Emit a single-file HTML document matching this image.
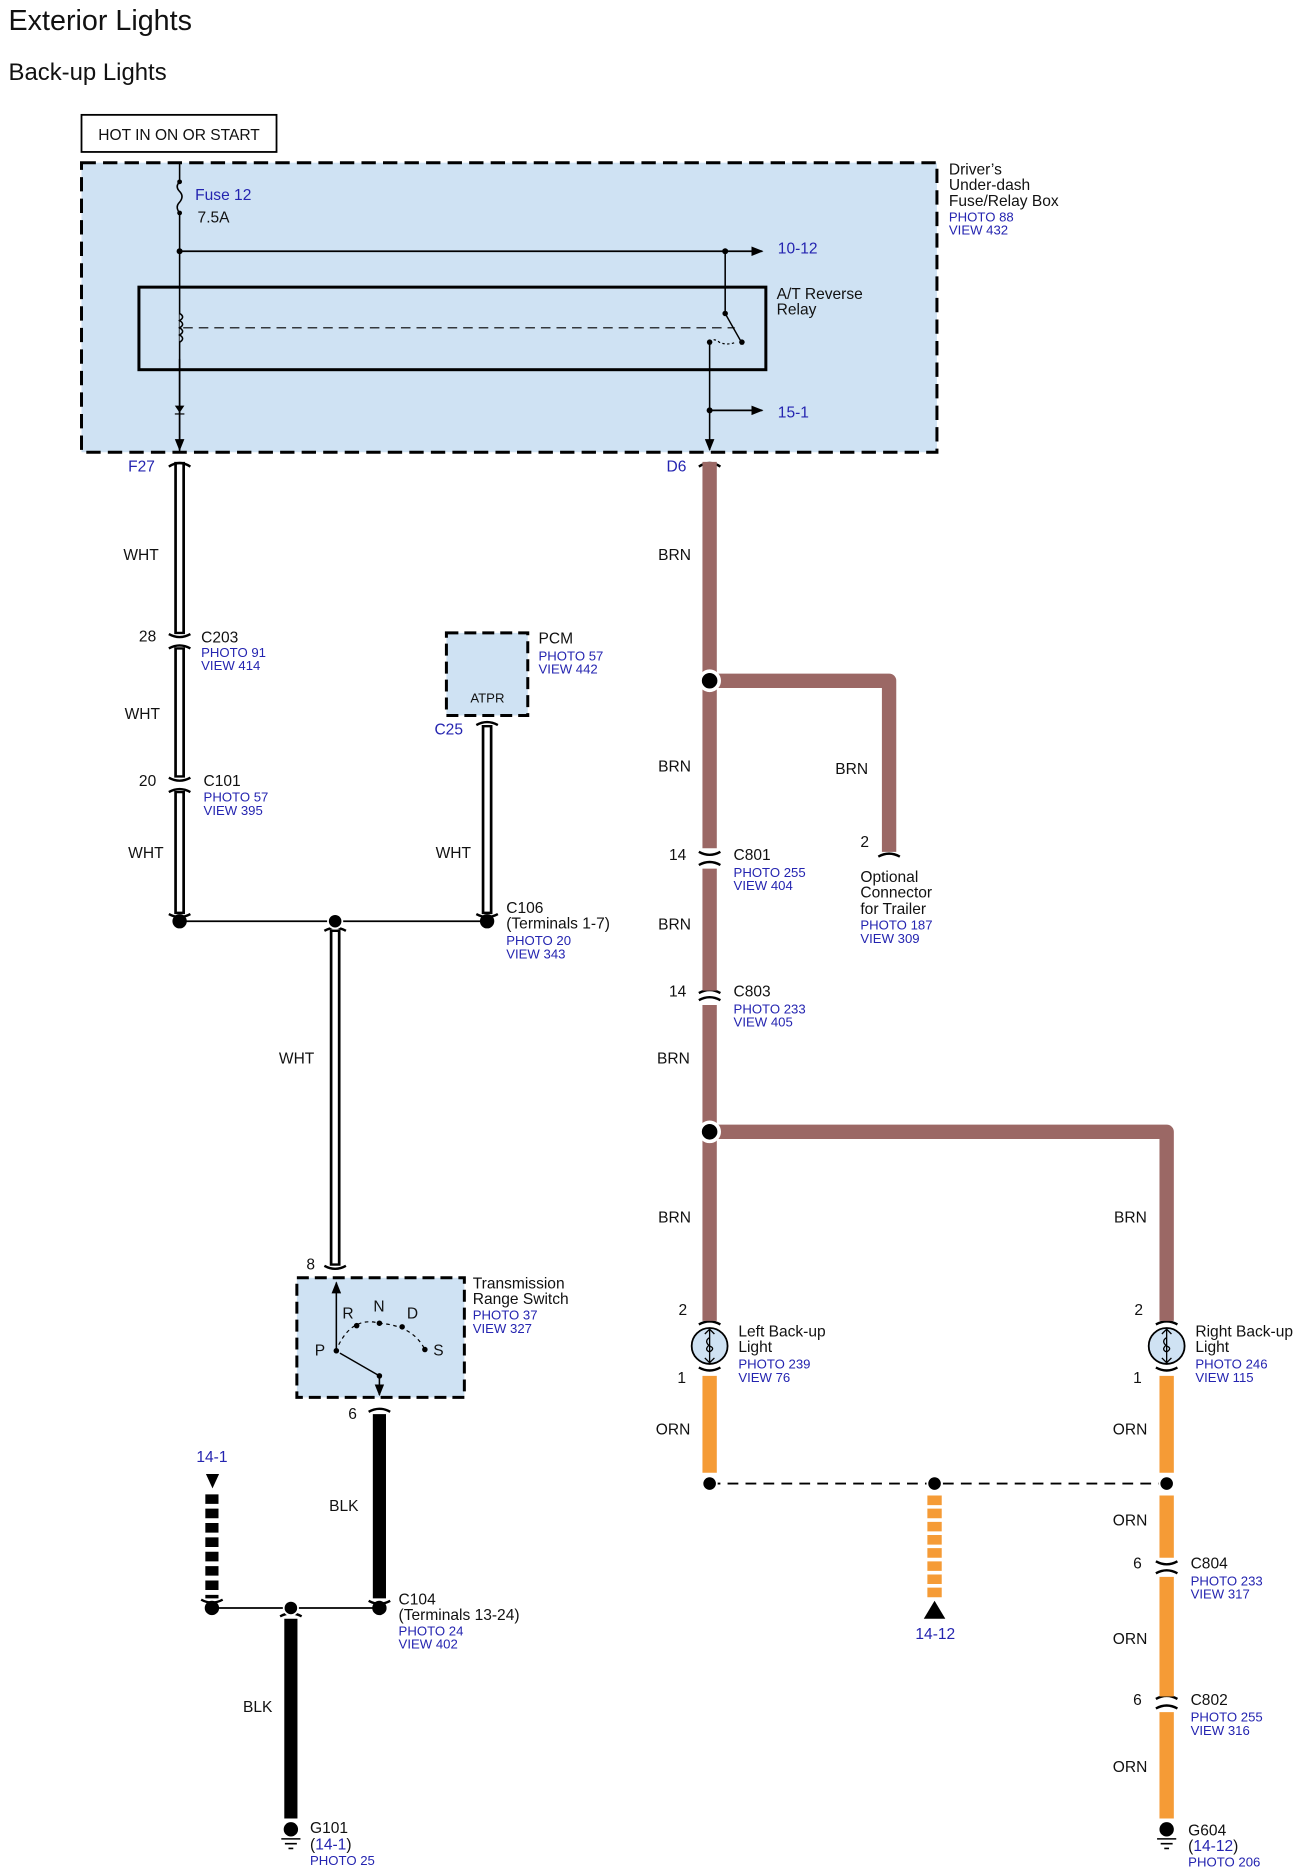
<!DOCTYPE html>
<html><head><meta charset="utf-8"><style>
html,body{margin:0;padding:0;background:#fff;}
svg{display:block;}
text{font-family:"Liberation Sans",Arial,sans-serif;}
.k{font-size:13px;fill:#111;}
.b{font-size:11px;fill:#2424b0;}
.bl{font-size:13px;fill:#2424b0;}
</style></head><body>
<svg width="1302" height="1870" viewBox="0 0 1088 1563" xmlns="http://www.w3.org/2000/svg">
<defs>
<marker id="ar" markerWidth="10" markerHeight="10" refX="9" refY="5" orient="auto" markerUnits="userSpaceOnUse"><path d="M0,1 L10,5 L0,9 z" fill="#000"/></marker>
</defs>
<text x="7" y="25" style="font-size:24px" fill="#111">Exterior Lights</text>
<text x="7" y="67" style="font-size:20px" fill="#111">Back-up Lights</text>
<rect x="68" y="96" width="163" height="31" fill="#fff" stroke="#000" stroke-width="1.5"/>
<text x="82" y="117" class="k">HOT IN ON OR START</text>

<!-- Fuse/Relay box -->
<rect x="68" y="136" width="715" height="242" fill="#cfe2f3" stroke="#000" stroke-width="2.5" stroke-dasharray="12,6"/>
<text x="793" y="146" class="k">Driver’s</text>
<text x="793" y="159" class="k">Under-dash</text>
<text x="793" y="172" class="k">Fuse/Relay Box</text>
<text x="793" y="185" class="b">PHOTO 88</text>
<text x="793" y="196" class="b">VIEW 432</text>
<path d="M150 136 V152 M150 178 V378" stroke="#000" stroke-width="1.3" fill="none"/>
<path d="M150 152 q-4 4 0 8 q4 4 0 9 q-4 4 0 9" stroke="#000" stroke-width="1.3" fill="none"/>
<circle cx="150" cy="152" r="2" fill="#000"/><circle cx="150" cy="178" r="2" fill="#000"/>
<text x="163" y="167" class="bl">Fuse 12</text>
<text x="165" y="186" class="k">7.5A</text>
<circle cx="150" cy="210" r="2.5" fill="#000"/>
<line x1="150" y1="210" x2="637" y2="210" stroke="#000" stroke-width="1.5" marker-end="url(#ar)"/>
<text x="650" y="212" class="bl">10-12</text>
<rect x="116" y="240" width="524" height="69" fill="none" stroke="#000" stroke-width="2.5"/>
<text x="649" y="250" class="k">A/T Reverse</text>
<text x="649" y="263" class="k">Relay</text>
<path d="M150 262 q5 3 0 6 q5 3 0 6 q5 3 0 6 q5 3 0 6" stroke="#000" stroke-width="1.3" fill="#cfe2f3"/>
<line x1="153" y1="274" x2="614" y2="274" stroke="#000" stroke-width="1" stroke-dasharray="8,5"/>
<circle cx="606" cy="210" r="2.5" fill="#000"/>
<line x1="606" y1="210" x2="606" y2="262" stroke="#000" stroke-width="1.3"/>
<circle cx="606" cy="262" r="2.3" fill="#000"/>
<line x1="606" y1="262" x2="619" y2="285" stroke="#000" stroke-width="1.2"/>
<circle cx="620" cy="286" r="2.3" fill="#000"/>
<circle cx="593" cy="286" r="2.3" fill="#000"/>
<path d="M593 286 q3 -4 8 0 q6 3 14 0" stroke="#000" stroke-width="1" stroke-dasharray="2,2" fill="none"/>
<line x1="593" y1="286" x2="593" y2="376" stroke="#000" stroke-width="1.3" marker-end="url(#ar)"/>
<line x1="150" y1="300" x2="150" y2="376" stroke="#000" stroke-width="1.3" marker-end="url(#ar)"/>
<path d="M146 339 L154 339 L150 345 z" fill="#000"/><line x1="146" y1="346" x2="154" y2="346" stroke="#000"/>
<circle cx="593" cy="343" r="2.5" fill="#000"/>
<line x1="593" y1="343" x2="637" y2="343" stroke="#000" stroke-width="1.5" marker-end="url(#ar)"/>
<text x="650" y="349" class="bl">15-1</text>
<text x="107" y="394" class="bl">F27</text>
<text x="557" y="394" class="bl">D6</text>

<!-- WHT wires (double) -->
<g stroke="#000" stroke-width="9" fill="none">
<line x1="150" y1="386" x2="150" y2="530"/><line x1="150" y1="541" x2="150" y2="650"/><line x1="150" y1="661" x2="150" y2="764"/>
<line x1="407" y1="606" x2="407" y2="764"/>
<line x1="280" y1="777" x2="280" y2="1058"/>
</g>
<g stroke="#fff" stroke-width="4.5" fill="none">
<line x1="150" y1="388" x2="150" y2="528"/><line x1="150" y1="543" x2="150" y2="648"/><line x1="150" y1="663" x2="150" y2="762"/>
<line x1="407" y1="608" x2="407" y2="762"/>
<line x1="280" y1="779" x2="280" y2="1056"/>
</g>
<!-- connector marks -->
<g stroke="#000" stroke-width="2" fill="none">
<path d="M141 390 q9 -6 18 0"/><path d="M584 390 q9 -6 18 0"/>
<path d="M141 530 q9 5 18 0 M141 542 q9 -5 18 0"/>
<path d="M141 650 q9 5 18 0 M141 662 q9 -5 18 0"/>
<path d="M141 764 q9 5 18 0"/><path d="M398 764 q9 5 18 0"/><path d="M398 606 q9 -5 18 0"/>
<path d="M271 778 q9 -5 18 0"/><path d="M271 1058 q9 5 18 0"/>
<path d="M308 1180 q9 -5 18 0"/><path d="M308 1338 q9 5 18 0"/>
<path d="M168 1337 q9 5 18 0"/><path d="M234 1351 q9 -5 18 0"/>
<path d="M584 712 q9 5 18 0 M584 723 q9 -5 18 0"/>
<path d="M584 830 q9 -5 18 0 M584 836 q9 -5 18 0"/>
<path d="M734 716 q9 -5 18 0"/>
<path d="M966 1305 q9 5 18 0 M966 1315 q9 -5 18 0"/>
<path d="M966 1420 q9 -5 18 0 M966 1428 q9 -5 18 0"/>
<path d="M584 1107 q9 -5 18 0 M584 1143 q9 5 18 0"/>
<path d="M966 1107 q9 -5 18 0 M966 1143 q9 5 18 0"/>
</g>
<text x="103" y="468" class="k">WHT</text>
<text x="116" y="536" class="k">28</text>
<text x="168" y="537" class="k">C203</text><text x="168" y="549" class="b">PHOTO 91</text><text x="168" y="560" class="b">VIEW 414</text>
<text x="104" y="601" class="k">WHT</text>
<text x="116" y="657" class="k">20</text>
<text x="170" y="657" class="k">C101</text><text x="170" y="670" class="b">PHOTO 57</text><text x="170" y="681" class="b">VIEW 395</text>
<text x="107" y="717" class="k">WHT</text>
<rect x="373" y="529" width="68" height="69" fill="#cfe2f3" stroke="#000" stroke-width="2.5" stroke-dasharray="10,5"/>
<text x="393" y="587" style="font-size:11px" fill="#111">ATPR</text>
<text x="450" y="538" class="k">PCM</text><text x="450" y="552" class="b">PHOTO 57</text><text x="450" y="563" class="b">VIEW 442</text>
<text x="363" y="614" class="bl">C25</text>
<text x="364" y="717" class="k">WHT</text>
<line x1="150" y1="770" x2="407" y2="770" stroke="#000" stroke-width="1.5"/>
<circle cx="150" cy="770" r="6" fill="#000"/><circle cx="280" cy="770" r="6" fill="#000" stroke="#fff" stroke-width="1.5"/><circle cx="407" cy="770" r="6" fill="#000"/>
<text x="423" y="763" class="k">C106</text><text x="423" y="776" class="k">(Terminals 1-7)</text>
<text x="423" y="790" class="b">PHOTO 20</text><text x="423" y="801" class="b">VIEW 343</text>
<text x="233" y="889" class="k">WHT</text>

<!-- Transmission range switch -->
<text x="256" y="1061" class="k">8</text>
<rect x="248" y="1068" width="140" height="100" fill="#cfe2f3" stroke="#000" stroke-width="2.5" stroke-dasharray="10,5"/>
<text x="395" y="1077" class="k">Transmission</text><text x="395" y="1090" class="k">Range Switch</text>
<text x="395" y="1103" class="b">PHOTO 37</text><text x="395" y="1114" class="b">VIEW 327</text>
<line x1="281" y1="1128" x2="281" y2="1072" stroke="#000" stroke-width="1.3" marker-end="url(#ar)"/>
<path d="M283 1124 Q295 1100 317 1106 Q345 1108 355 1128" stroke="#000" stroke-width="1" stroke-dasharray="3,3" fill="none"/>
<circle cx="281" cy="1129" r="2.3" fill="#000"/><circle cx="298" cy="1108" r="2.3" fill="#000"/><circle cx="317" cy="1106" r="2.3" fill="#000"/><circle cx="336" cy="1109" r="2.3" fill="#000"/><circle cx="355" cy="1128" r="2.3" fill="#000"/>
<text x="263" y="1133" class="k">P</text><text x="286" y="1102" class="k">R</text><text x="312" y="1096" class="k">N</text><text x="340" y="1102" class="k">D</text><text x="362" y="1133" class="k">S</text>
<line x1="317" y1="1150" x2="284" y2="1131" stroke="#000" stroke-width="1.2"/>
<circle cx="317" cy="1150" r="2.3" fill="#000"/>
<line x1="317" y1="1150" x2="317" y2="1166" stroke="#000" stroke-width="1.3" marker-end="url(#ar)"/>
<text x="291" y="1186" class="k">6</text>

<!-- BLK -->
<line x1="317" y1="1182" x2="317" y2="1336" stroke="#000" stroke-width="11"/>
<text x="275" y="1263" class="k">BLK</text>
<path d="M172 1232 h11 l-5.5 12 z" fill="#000"/>
<text x="164" y="1222" class="bl">14-1</text>
<line x1="177" y1="1249" x2="177" y2="1336" stroke="#000" stroke-width="11" stroke-dasharray="8,4"/>
<line x1="177" y1="1344" x2="317" y2="1344" stroke="#000" stroke-width="1.5"/>
<circle cx="177" cy="1344" r="6" fill="#000"/><circle cx="243" cy="1344" r="6" fill="#000" stroke="#fff" stroke-width="1.5"/><circle cx="317" cy="1344" r="6" fill="#000"/>
<text x="333" y="1341" class="k">C104</text><text x="333" y="1354" class="k">(Terminals 13-24)</text>
<text x="333" y="1367" class="b">PHOTO 24</text><text x="333" y="1378" class="b">VIEW 402</text>
<line x1="243" y1="1353" x2="243" y2="1520" stroke="#000" stroke-width="11"/>
<text x="203" y="1431" class="k">BLK</text>
<circle cx="243" cy="1529" r="6" fill="#000"/>
<path d="M235 1537 h16 M238 1541 h10 M241 1545 h4" stroke="#000" stroke-width="1.3"/>
<text x="259" y="1532" class="k">G101</text>
<text x="259" y="1546" class="k">(<tspan fill="#2424b0">14-1</tspan>)</text>
<text x="259" y="1559" class="b">PHOTO 25</text>

<!-- BRN -->
<g stroke="#9b6865" stroke-width="12" fill="none" stroke-linejoin="round">
<line x1="593" y1="386" x2="593" y2="709"/>
<line x1="593" y1="726" x2="593" y2="828"/>
<line x1="593" y1="840" x2="593" y2="1104"/>
<path d="M593 569 H743 V712"/>
<path d="M593 946 H975 V1104"/>
</g>
<circle cx="593" cy="569" r="8" fill="#000" stroke="#fff" stroke-width="3"/>
<circle cx="593" cy="946" r="8" fill="#000" stroke="#fff" stroke-width="3"/>
<text x="550" y="468" class="k">BRN</text>
<text x="550" y="645" class="k">BRN</text>
<text x="698" y="647" class="k">BRN</text>
<text x="719" y="708" class="k">2</text>
<text x="719" y="737" class="k">Optional</text><text x="719" y="750" class="k">Connector</text><text x="719" y="764" class="k">for Trailer</text>
<text x="719" y="777" class="b">PHOTO 187</text><text x="719" y="788" class="b">VIEW 309</text>
<text x="559" y="719" class="k">14</text>
<text x="613" y="719" class="k">C801</text><text x="613" y="733" class="b">PHOTO 255</text><text x="613" y="744" class="b">VIEW 404</text>
<text x="550" y="777" class="k">BRN</text>
<text x="559" y="833" class="k">14</text>
<text x="613" y="833" class="k">C803</text><text x="613" y="847" class="b">PHOTO 233</text><text x="613" y="858" class="b">VIEW 405</text>
<text x="549" y="889" class="k">BRN</text>
<text x="550" y="1022" class="k">BRN</text>
<text x="931" y="1022" class="k">BRN</text>

<!-- lights -->
<g stroke="#000" stroke-width="1.5" fill="#cfe2f3">
<circle cx="593" cy="1125" r="15"/><circle cx="975" cy="1125" r="15"/>
</g>
<g stroke="#000" stroke-width="1.1" fill="none">
<path d="M593 1111 v28 M589 1115 l4 -4 4 4 M589 1135 l4 4 4 -4 M593 1118 q-5 3 0 7 q5 2 0 5 q-5 -2 0 -6"/>
<path d="M975 1111 v28 M971 1115 l4 -4 4 4 M971 1135 l4 4 4 -4 M975 1118 q-5 3 0 7 q5 2 0 5 q-5 -2 0 -6"/>
</g>
<text x="567" y="1099" class="k">2</text><text x="566" y="1156" class="k">1</text>
<text x="948" y="1099" class="k">2</text><text x="947" y="1156" class="k">1</text>
<text x="617" y="1117" class="k">Left Back-up</text><text x="617" y="1130" class="k">Light</text>
<text x="617" y="1144" class="b">PHOTO 239</text><text x="617" y="1155" class="b">VIEW 76</text>
<text x="999" y="1117" class="k">Right Back-up</text><text x="999" y="1130" class="k">Light</text>
<text x="999" y="1144" class="b">PHOTO 246</text><text x="999" y="1155" class="b">VIEW 115</text>

<!-- ORN -->
<g stroke="#f59b36" stroke-width="12" fill="none">
<line x1="593" y1="1150" x2="593" y2="1231"/>
<line x1="975" y1="1150" x2="975" y2="1231"/>
<line x1="975" y1="1250" x2="975" y2="1302"/>
<line x1="975" y1="1318" x2="975" y2="1418"/>
<line x1="975" y1="1431" x2="975" y2="1520"/>
<line x1="781" y1="1250" x2="781" y2="1336" stroke-dasharray="8,3"/>
</g>
<line x1="593" y1="1240" x2="975" y2="1240" stroke="#000" stroke-width="1.5" stroke-dasharray="9,6"/>
<circle cx="593" cy="1240" r="6" fill="#000" stroke="#fff" stroke-width="1.5"/>
<circle cx="781" cy="1240" r="6" fill="#000" stroke="#fff" stroke-width="1.5"/>
<circle cx="975" cy="1240" r="6" fill="#000" stroke="#fff" stroke-width="1.5"/>
<path d="M772 1353 L781 1338 L790 1353 z" fill="#000"/>
<text x="765" y="1370" class="bl">14-12</text>
<text x="548" y="1199" class="k">ORN</text>
<text x="930" y="1199" class="k">ORN</text>
<text x="930" y="1275" class="k">ORN</text>
<text x="947" y="1311" class="k">6</text>
<text x="995" y="1311" class="k">C804</text><text x="995" y="1325" class="b">PHOTO 233</text><text x="995" y="1336" class="b">VIEW 317</text>
<text x="930" y="1374" class="k">ORN</text>
<text x="947" y="1425" class="k">6</text>
<text x="995" y="1425" class="k">C802</text><text x="995" y="1439" class="b">PHOTO 255</text><text x="995" y="1450" class="b">VIEW 316</text>
<text x="930" y="1481" class="k">ORN</text>
<circle cx="975" cy="1529" r="6" fill="#000"/>
<path d="M967 1537 h16 M970 1541 h10 M973 1545 h4" stroke="#000" stroke-width="1.3"/>
<text x="993" y="1534" class="k">G604</text>
<text x="993" y="1547" class="k">(<tspan fill="#2424b0">14-12</tspan>)</text>
<text x="993" y="1560" class="b">PHOTO 206</text>
</svg>
</body></html>
